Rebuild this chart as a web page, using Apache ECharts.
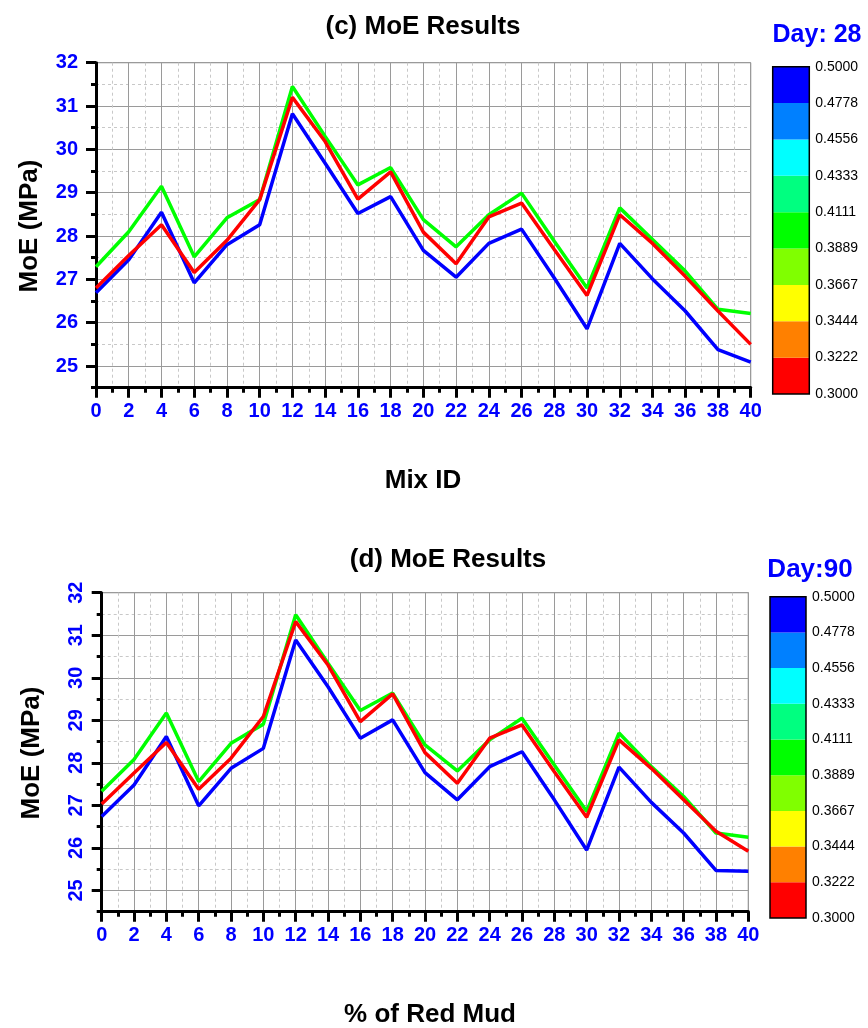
<!DOCTYPE html>
<html>
<head>
<meta charset="utf-8">
<script src="https://cdn.jsdelivr.net/npm/echarts@6/dist/echarts.min.js"></script>
<style>html,body{margin:0;padding:0;background:#fff;}#c{width:868px;height:1028px;}</style>
</head>
<body>
<div id="c"></div>
<script>
const mixIds = [0,2,4,6,8,10,12,14,16,18,20,22,24,26,28,30,32,34,36,38,40];
const d28Green = [27.29,28.1,29.15,27.52,28.42,28.84,31.45,30.30,29.18,29.58,28.38,27.75,28.49,28.99,27.88,26.80,28.65,27.92,27.19,26.31,26.21];
const d28Red   = [26.8,27.55,28.26,27.16,27.9,28.84,31.2,30.18,28.85,29.48,28.09,27.36,28.44,28.76,27.69,26.63,28.49,27.83,27.07,26.27,25.5];
const d28Blue  = [26.69,27.45,28.55,26.92,27.8,28.26,30.82,29.68,28.52,28.91,27.67,27.05,27.83,28.16,27.03,25.86,27.83,27.01,26.27,25.38,25.09];
const d90Green = [27.33,28.08,29.17,27.56,28.46,28.91,31.48,30.34,29.23,29.64,28.42,27.81,28.54,29.05,27.95,26.86,28.70,27.91,27.21,26.35,26.25];
const d90Red   = [27.03,27.76,28.48,27.38,28.11,29.09,31.32,30.30,28.97,29.62,28.24,27.52,28.58,28.89,27.79,26.72,28.54,27.87,27.13,26.39,25.92];
const d90Blue  = [26.74,27.48,28.62,26.99,27.87,28.34,30.89,29.79,28.58,29.01,27.77,27.13,27.91,28.26,27.13,25.95,27.90,27.07,26.35,25.47,25.45];
const yTickLabels = [25,26,27,28,29,30,31,32];
const cbLabels = ['0.3000','0.3222','0.3444','0.3667','0.3889','0.4111','0.4333','0.4556','0.4778','0.5000'];
const cbColors = ['#FF0000','#FF8000','#FFFF00','#80FF00','#00FF00','#00FF80','#00FFFF','#0080FF','#0000FF'];

const FONT = 'Arial, "Liberation Sans", Helvetica, sans-serif';
const BLUE = '#0000FF';
const chart = echarts.init(document.getElementById('c'), null, {renderer: 'canvas'});

function pairs(arr){ return mixIds.map((x,i)=>[x, arr[i]]); }

function xAxisFor(gi){
  return {
    gridIndex: gi, type: 'value', min: 0, max: 40, interval: 2,
    axisLine: {show: true, onZero: false, lineStyle: {color: '#000', width: 3}},
    axisTick: {show: true, inside: false, length: 10, lineStyle: {color: '#000', width: 3}},
    minorTick: {show: true, splitNumber: 2, length: 5, lineStyle: {color: '#000', width: 3}},
    axisLabel: {color: BLUE, fontWeight: 'bold', fontSize: 20, fontFamily: FONT, margin: 14, showMinLabel: true, showMaxLabel: true},
    splitLine: {show: true, lineStyle: {color: '#9a9a9a', width: 1}},
    minorSplitLine: {show: true, lineStyle: {color: '#c8c8c8', width: 1, type: [3,3]}}
  };
}
function yAxisMinor(gi){
  return {
    gridIndex: gi, type: 'value', min: 24.5, max: 32, interval: 0.5, position: 'left',
    axisLine: {show: true, onZero: false, lineStyle: {color: '#000', width: 3}},
    axisTick: {show: true, inside: false, length: 5, lineStyle: {color: '#000', width: 3}},
    axisLabel: {show: false},
    splitLine: {show: true, lineStyle: {color: '#c8c8c8', width: 1, type: [3,3]}}
  };
}
function yAxisMajor(gi, rotate){
  return {
    gridIndex: gi, type: 'value', min: 24.5, max: 32, position: 'left',
    axisLine: {show: false},
    axisTick: {show: true, inside: false, length: 10, customValues: yTickLabels, lineStyle: {color: '#000', width: 3}},
    axisLabel: {show: true, customValues: yTickLabels, color: BLUE, fontWeight: 'bold', fontSize: 20, fontFamily: FONT,
      margin: rotate ? 15 : 18, rotate: rotate ? 90 : 0},
    splitLine: {show: true, lineStyle: {color: '#9a9a9a', width: 1}}
  };
}
function cbXAxis(gi){
  return {gridIndex: gi, type: 'category', data: ['cb'], show: false};
}
function cbYAxis(gi){
  return {
    gridIndex: gi, type: 'value', min: 0, max: 9, interval: 1, position: 'right',
    axisLine: {show: false}, axisTick: {show: false}, splitLine: {show: false},
    axisLabel: {show: true, color: '#000', fontSize: 14, fontFamily: FONT, margin: 6, showMinLabel: true, showMaxLabel: true,
      formatter: v => cbLabels[Math.round(v)]}
  };
}
function lineSeries(xi, yi, arr, color){
  return {type: 'line', xAxisIndex: xi, yAxisIndex: yi, data: pairs(arr), showSymbol: false, symbol: 'none',
    lineStyle: {color: color, width: 3.5}, itemStyle: {color: color}, z: 5, animation: false};
}
function cbSeries(xi, yi, stackName){
  return cbColors.map(c => ({type: 'bar', xAxisIndex: xi, yAxisIndex: yi, stack: stackName, data: [1],
    barWidth: '100%', itemStyle: {color: c}, animation: false, silent: true}));
}

const option = {
  backgroundColor: '#fff',
  animation: false,
  grid: [
    {left: 96, top: 62.7, width: 654.7, height: 325, show: true, borderColor: '#666', borderWidth: 1, containLabel: false},
    {left: 101.7, top: 592.7, width: 646.6, height: 319, show: true, borderColor: '#666', borderWidth: 1, containLabel: false},
    {left: 772.7, top: 66.7, width: 36.6, height: 327.3, show: true, z: 10, borderColor: '#000', borderWidth: 1.5, backgroundColor: 'transparent'},
    {left: 770, top: 596.7, width: 36, height: 321.3, show: true, z: 10, borderColor: '#000', borderWidth: 1.5, backgroundColor: 'transparent'}
  ],
  xAxis: [xAxisFor(0), xAxisFor(1), cbXAxis(2), cbXAxis(3)],
  yAxis: [yAxisMinor(0), yAxisMajor(0, false), yAxisMinor(1), yAxisMajor(1, true), cbYAxis(2), cbYAxis(3)],
  series: [
    lineSeries(0, 0, d28Green, '#00FF00'),
    lineSeries(0, 0, d28Blue, '#0000FF'),
    lineSeries(0, 0, d28Red, '#FF0000'),
    lineSeries(1, 2, d90Green, '#00FF00'),
    lineSeries(1, 2, d90Blue, '#0000FF'),
    lineSeries(1, 2, d90Red, '#FF0000'),
    ...cbSeries(2, 4, 'cb28'),
    ...cbSeries(3, 5, 'cb90')
  ],
  graphic: [
    {type: 'text', x: 423, y: 27, style: {text: '(c) MoE Results', font: 'bold 26px ' + FONT, fill: '#000', align: 'center', verticalAlign: 'middle', textAlign: 'center', textVerticalAlign: 'middle'}},
    {type: 'text', x: 448, y: 560, style: {text: '(d) MoE Results', font: 'bold 26px ' + FONT, fill: '#000', align: 'center', verticalAlign: 'middle', textAlign: 'center', textVerticalAlign: 'middle'}},
    {type: 'text', x: 423, y: 481, style: {text: 'Mix ID', font: 'bold 26px ' + FONT, fill: '#000', align: 'center', verticalAlign: 'middle', textAlign: 'center', textVerticalAlign: 'middle'}},
    {type: 'text', x: 430, y: 1015, style: {text: '% of Red Mud', font: 'bold 26px ' + FONT, fill: '#000', align: 'center', verticalAlign: 'middle', textAlign: 'center', textVerticalAlign: 'middle'}},
    {type: 'text', x: 30, y: 226, rotation: Math.PI/2, style: {text: 'MoE (MPa)', font: 'bold 26px ' + FONT, fill: '#000', align: 'center', verticalAlign: 'middle', textAlign: 'center', textVerticalAlign: 'middle'}},
    {type: 'text', x: 32, y: 753, rotation: Math.PI/2, style: {text: 'MoE (MPa)', font: 'bold 26px ' + FONT, fill: '#000', align: 'center', verticalAlign: 'middle', textAlign: 'center', textVerticalAlign: 'middle'}},
    {type: 'text', x: 817, y: 35, style: {text: 'Day: 28', font: 'bold 25px ' + FONT, fill: BLUE, align: 'center', verticalAlign: 'middle', textAlign: 'center', textVerticalAlign: 'middle'}},
    {type: 'text', x: 810, y: 570, style: {text: 'Day:90', font: 'bold 26px ' + FONT, fill: BLUE, align: 'center', verticalAlign: 'middle', textAlign: 'center', textVerticalAlign: 'middle'}}
  ]
};
chart.setOption(option);
</script>
</body>
</html>
